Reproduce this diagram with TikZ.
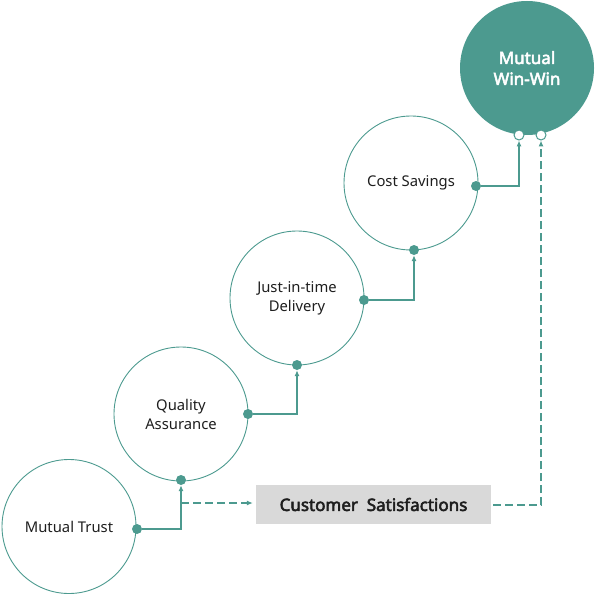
\documentclass[tikz,border=0pt]{standalone}
\usepackage{fontspec}
\setmainfont{Noto Sans}
\newfontfamily\medfont[FakeBold=3]{Noto Sans}
\usetikzlibrary{arrows.meta}
\definecolor{teal1}{HTML}{4C9A8F}
\definecolor{boxgray}{HTML}{D9D9D9}
\definecolor{txt}{HTML}{1E1E1E}
\begin{document}
\begin{tikzpicture}[x=1pt,y=-1pt,
 stage/.style={circle,draw=teal1,line width=0.9pt,minimum size=134pt,inner sep=0pt,align=center,text=txt,font=\fontsize{14.8}{19}\selectfont},
 goal/.style={circle,fill=teal1,minimum size=134pt,inner sep=0pt,align=center,text=white,font=\medfont\fontsize{17}{21}\selectfont},
 dot/.style={circle,fill=teal1,minimum size=10pt,inner sep=0pt},
 odot/.style={circle,draw=teal1,fill=white,line width=1pt,minimum size=10pt,inner sep=0pt},
 link/.style={draw=teal1,line width=1.1pt,-{Latex[length=6pt,width=5pt]}},
 dlink/.style={link,dash pattern=on 8pt off 4pt},
 cbox/.style={fill=boxgray,minimum width=235pt,minimum height=39pt,inner sep=0pt,text=txt,font=\medfont\fontsize{17}{20}\selectfont}]
\useasboundingbox (0,0) rectangle (596,596);
\node[stage] (trust) at (69,526.5) {Mutual Trust};
\node[stage] (qa) at (181,414) {Quality\\Assurance};
\node[stage] (jit) at (297,298) {Just-in-time\\Delivery};
\node[stage] (cost) at (411,183) {Cost Savings};
\node[goal] (win) at (527,68) {Mutual\\Win-Win};
\node[cbox] (cs) at (373.5,504.5) {Customer\ \ Satisfactions};

\node[dot] (t1) at (137,529) {};
\node[dot] (q0) at (181,480) {};
\node[dot] (q1) at (248,414) {};
\node[dot] (j0) at (297,365) {};
\node[dot] (j1) at (364,300) {};
\node[dot] (c0) at (414,250) {};
\node[dot] (c1) at (476,186) {};
\node[odot] (w0) at (519,135) {};
\node[odot] (w1) at (541,135) {};

\coordinate (split) at (181,503);
\coordinate (csout) at (493,505);

\draw[link] (t1) -| (q0);
\draw[link] (q1) -| (j0);
\draw[link] (j1) -| (c0);
\draw[link] (c1) -| (w0);
\draw[dlink,shorten >=3pt] (split) -- (cs.west |- split);
\draw[dlink] (csout) -| (w1);
\end{tikzpicture}
\end{document}
